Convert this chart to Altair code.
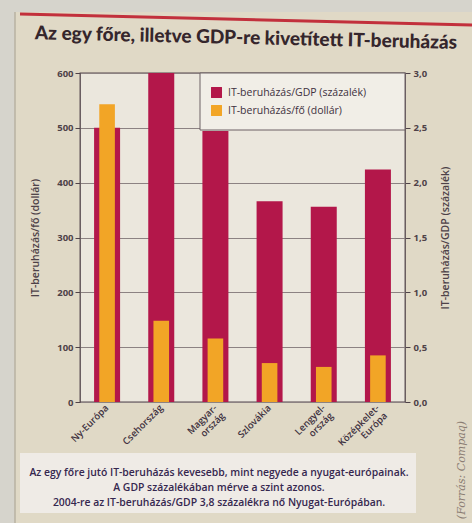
import altair as alt
import pandas as pd

# --- data -------------------------------------------------------------
countries = ["Ny-Európa", "Csehország", "Magyar-|ország", "Szlovákia",
             "Lengyel-|ország", "Középkelet-|Európa"]
gdp_share = [2.5, 3.0, 2.47, 1.83, 1.78, 2.12]        # IT-beruházás / GDP (%)
per_capita_usd = [543, 148, 116, 71, 64, 85]          # IT-beruházás / fő (dollár)

series_names = ["IT-beruházás/GDP (százalék)", "IT-beruházás/fő (dollár)"]
left_ticks = [0, 100, 200, 300, 400, 500, 600]
right_ticks = [0, 0.5, 1.0, 1.5, 2.0, 2.5, 3.0]

title_text = "Az egy főre, illetve GDP-re kivetített IT-beruházás"
caption_lines = [
    "Az egy főre jutó IT-beruházás kevesebb, mint negyede a nyugat-európainak.",
    "A GDP százalékában mérve a szint azonos.",
    "2004-re az IT-beruházás/GDP 3,8 százalékra nő Nyugat-Európában.",
]
source_text = "(Forrás: Compaq)"

# --- style ------------------------------------------------------------
RED = "#b3174a"
ORANGE = "#f2a526"
PAGE = "#e0d9c6"
OUTER = "#d6d4cc"
PLOT_BG = "#ebe7dd"
INK = "#3e3140"
AXIS_INK = "#4e4248"
GRID = "#8c8282"
HEAVY = "Lato, Roboto, sans-serif"
SANS = "'Open Sans', 'Noto Sans', 'DejaVu Sans', sans-serif"

W, H = 325, 329

df = pd.DataFrame({
    "orszag": countries, "gdp": gdp_share, "usd": per_capita_usd,
    "s_gdp": series_names[0], "s_usd": series_names[1],
})
one = pd.DataFrame({"k": [0]})

x_enc = alt.X(
    "orszag:N", sort=countries, title=None,
    scale=alt.Scale(paddingInner=0.52, paddingOuter=0.26),
    axis=alt.Axis(
        labelExpr="split(datum.label, '|')", labelAngle=315, labelAlign="right",
        labelBaseline="middle", labelFont=SANS, labelFontSize=9.5,
        labelFontWeight=600, labelColor=INK, labelPadding=4, labelLineHeight=11,
        ticks=False, domain=False,
    ),
)

color_scale = alt.Scale(domain=series_names, range=[RED, ORANGE])
legend = alt.Legend(
    title=None, orient="none", legendX=131, legendY=14,
    symbolType="square", symbolSize=120, symbolStrokeWidth=0,
    labelFont=SANS, labelFontSize=10.5, labelColor=INK, rowPadding=7,
    labelOffset=6,
)

gdp_bars = alt.Chart(df).mark_bar().encode(
    x=x_enc,
    y=alt.Y(
        "gdp:Q", scale=alt.Scale(domain=[0, 3], nice=False),
        axis=alt.Axis(
            orient="right", values=right_ticks, grid=False,
            labelExpr="replace(format(datum.value, '.1f'), '.', ',')",
            title=series_names[0], titleAngle=270, titlePadding=24,
            titleFont=SANS, titleFontSize=10.5, titleFontWeight=600, titleColor=AXIS_INK,
            labelFont=SANS, labelFontSize=9.5, labelFontWeight=700, labelColor=AXIS_INK,
            tickSize=5, tickColor=AXIS_INK, domain=False, labelPadding=3,
        ),
    ),
    color=alt.Color("s_gdp:N", scale=color_scale, legend=legend, title=None),
)

usd_bars = alt.Chart(df).mark_bar(width=alt.RelativeBandSize(0.6)).encode(
    x=x_enc,
    y=alt.Y(
        "usd:Q", scale=alt.Scale(domain=[0, 600], nice=False),
        axis=alt.Axis(
            orient="left", values=left_ticks, grid=True, gridColor=GRID, gridWidth=1,
            title=series_names[1], titlePadding=16,
            titleFont=SANS, titleFontSize=10.5, titleFontWeight=600, titleColor=AXIS_INK,
            labelFont=SANS, labelFontSize=9.5, labelFontWeight=700, labelColor=AXIS_INK,
            tickSize=5, tickColor=AXIS_INK, domain=False, labelPadding=2,
        ),
    ),
    color=alt.Color("s_usd:N", scale=color_scale, legend=legend, title=None),
)

# legend panel in the upper right of the plot
legend_box = alt.Chart(one).mark_rect(fill="#f1eee7", stroke="#6d6064", strokeWidth=1).encode(
    x=alt.value(120), x2=alt.value(W), y=alt.value(0), y2=alt.value(57),
)

# page furniture around the plot: margin outside the box, red rule, title, caption
left_margin = alt.Chart(one).mark_rect(fill=OUTER).encode(
    x=alt.value(-80), x2=alt.value(-65), y=alt.value(-73), y2=alt.value(H + 121),
)
top_margin = alt.Chart(one).mark_rect(fill=OUTER).encode(
    x=alt.value(-65), x2=alt.value(W + 67), y=alt.value(-73), y2=alt.value(-61),
)
box_edge = alt.Chart(one).mark_rule(color="#b8b2a2", strokeWidth=1.5).encode(
    x=alt.value(-65), y=alt.value(-61), y2=alt.value(H + 121),
)
top_rule = alt.Chart(one).mark_rule(color="#c2303c", strokeWidth=3).encode(
    x=alt.value(-60), x2=alt.value(W + 67), y=alt.value(-59), y2=alt.value(-48),
)
title = alt.Chart(one).mark_text(
    font=HEAVY, fontSize=19, fontWeight=900, color="#35262c", align="center",
    baseline="middle", angle=1.3,
).encode(x=alt.value(166), y=alt.value(-35), text=alt.value(title_text))
caption_box = alt.Chart(one).mark_rect(fill="#efebe6").encode(
    x=alt.value(-60), x2=alt.value(336), y=alt.value(380), y2=alt.value(440),
)
caption = alt.Chart(one).mark_text(
    font=SANS, fontSize=10.4, fontWeight=600, color="#35274f", align="center",
    baseline="middle", lineHeight=15,
).encode(x=alt.value(139), y=alt.value(400), text=alt.value(caption_lines))
source = alt.Chart(one).mark_text(
    font="'DejaVu Serif', 'Liberation Serif', serif", fontSize=11, fontStyle="italic",
    color="#8a7c72", angle=270, align="center", baseline="middle",
).encode(x=alt.value(382), y=alt.value(397), text=alt.value(source_text))

chart = (
    alt.layer(left_margin, top_margin, box_edge, caption_box, top_rule, title,
              caption, source, gdp_bars, usd_bars, legend_box)
    .resolve_scale(y="independent")
    .properties(
        width=W, height=H,
        autosize=alt.AutoSizeParams(type="none"),
        padding={"left": 80, "top": 73, "right": 67, "bottom": 121},
        background=PAGE,
    )
    .configure_view(stroke="#54474d", strokeWidth=1.3, fill=PLOT_BG)
)

chart.save("out.html", embed_options={"renderer": "svg", "actions": False})
